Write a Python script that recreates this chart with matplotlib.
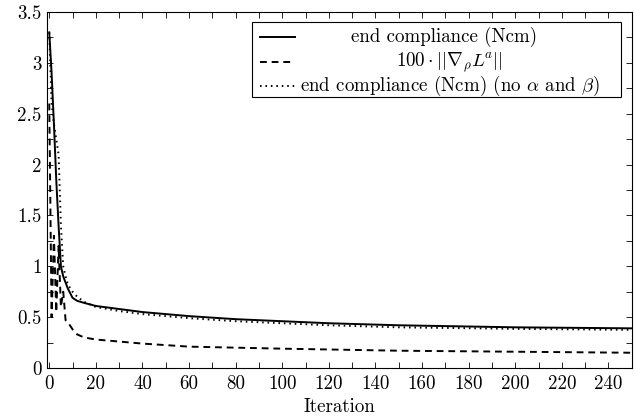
import numpy as np
import matplotlib
matplotlib.use("Agg")
import matplotlib.pyplot as plt
from matplotlib.ticker import FuncFormatter, MultipleLocator
from matplotlib.patches import Rectangle

plt.rcParams["font.family"] = "serif"
plt.rcParams["font.serif"] = ["cmr10"]
plt.rcParams["mathtext.fontset"] = "cm"
plt.rcParams["axes.formatter.use_mathtext"] = True

# iteration numbers and values
it_comp = [0, 1, 2, 3, 4, 5, 6, 8, 10, 12, 15, 20, 30, 40, 60, 80, 100,
           120, 150, 200, 250]
comp = [3.3, 2.9, 2.4, 1.85, 1.4, 1.0, 0.9, 0.78, 0.69, 0.66, 0.64, 0.61,
        0.58, 0.55, 0.51, 0.48, 0.46, 0.44, 0.42, 0.40, 0.39]

it_grad = [0, 1, 2, 3, 4, 5, 6, 7, 8, 10, 12, 15, 20, 40, 60, 100, 150,
           200, 250]
grad = [2.6, 0.5, 1.3, 0.55, 1.2, 0.6, 0.75, 0.47, 0.45, 0.38, 0.33, 0.30,
        0.28, 0.24, 0.21, 0.19, 0.17, 0.16, 0.15]

it_noab = [0, 1, 2, 3, 4, 5, 6, 7, 8, 10, 12, 15, 20, 30, 40, 60, 80, 100,
           120, 150, 200, 250]
comp_noab = [3.3, 2.6, 2.4, 2.25, 2.1, 1.4, 1.0, 0.9, 0.82, 0.75, 0.7,
             0.65, 0.6, 0.56, 0.53, 0.49, 0.46, 0.44, 0.42, 0.40, 0.385,
             0.375]

labels = [r"end compliance (Ncm)",
          r"$100 \cdot ||\nabla_\rho L^{\!a}||$",
          r"end compliance (Ncm) (no $\alpha$ and $\beta$)"]

FS = 13

fig = plt.figure(figsize=(6.35, 4.18), dpi=100)
ax = fig.add_axes([46.7 / 635, 50 / 418, 585 / 635, 356 / 418])

styles = ["-", (0, (3.5, 2.5)), (0, (0.8, 2.0))]
series = [(it_comp, comp), (it_grad, grad), (it_noab, comp_noab)]
for (x, y), ls in zip(series, styles):
    ax.plot(x, y, color="black", lw=1.4, linestyle=ls)

ax.set_xlim(-1.1, 250)
ax.set_ylim(0, 3.5)
ax.xaxis.set_major_locator(MultipleLocator(20))
ax.xaxis.set_minor_locator(MultipleLocator(10))
ax.yaxis.set_major_locator(MultipleLocator(0.5))
ax.yaxis.set_minor_locator(MultipleLocator(0.25))
fmt = FuncFormatter(lambda v, p: "%g" % v)
ax.xaxis.set_major_formatter(fmt)
ax.yaxis.set_major_formatter(fmt)
ax.tick_params(which="both", direction="in", top=True, right=True,
               length=4, width=0.6, colors="black")
ax.tick_params(axis="x", pad=5)
for s in ax.spines.values():
    s.set_linewidth(0.8)

# legend drawn like the pgfplots one: handles on left, centred text
x0, x1 = 0.351, 0.982
yt, yb = 0.972, 0.761
ax.add_patch(Rectangle((x0, yb), x1 - x0, yt - yb, transform=ax.transAxes,
                       fill=True, facecolor="white", edgecolor="black",
                       lw=0.8, zorder=5))
rows = [0.930, 0.860, 0.792]
centers = [0.68, 0.688, 0.69]
texts = []
for r, c, ls, lab in zip(rows, centers, styles, labels):
    ax.plot([0.365, 0.425], [r, r], transform=ax.transAxes, color="black",
            lw=1.4, linestyle=ls, zorder=6)
    texts.append(ax.text(c, r, lab, transform=ax.transAxes, ha="center",
                         va="center", fontsize=FS, zorder=6))

# size the font so the longest legend entry is ~300 px wide, as in the picture
fig.canvas.draw()
w = texts[2].get_window_extent().width
FS = FS * 300 / w
for t in texts:
    t.set_fontsize(FS)
ax.tick_params(labelsize=FS)
ax.set_xlabel("Iteration", fontsize=FS, labelpad=4)

fig.savefig("out.png", dpi=100)
